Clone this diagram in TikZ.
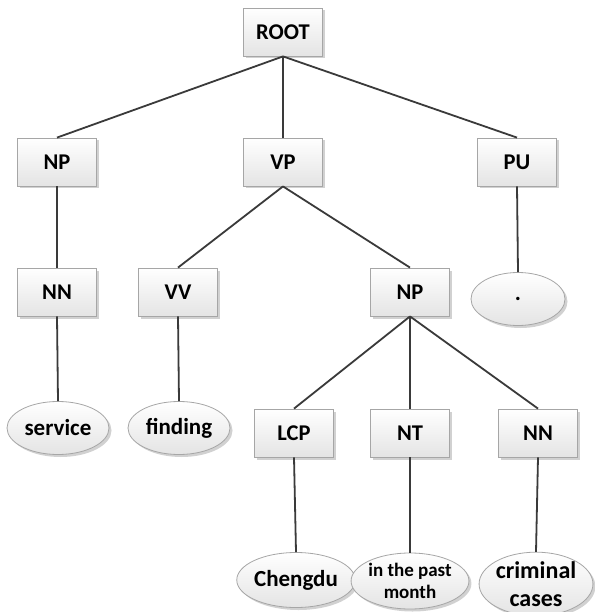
\documentclass[tikz,border=0pt]{standalone}
\usepackage{fontspec}
\setmainfont{Carlito}
\usetikzlibrary{shapes.geometric,shadows}
\definecolor{edgeclr}{HTML}{3A3A3A}
\definecolor{rimclr}{HTML}{A6A6A6}
\definecolor{fillbot}{HTML}{E4E4E4}
\tikzset{
  tag/.style={draw=rimclr, line width=0.8pt, top color=white, bottom color=fillbot,
    minimum width=79pt, minimum height=48pt, inner sep=0pt,
    font=\fontsize{22.5}{24}\selectfont\bfseries,
    drop shadow={shadow xshift=2.5pt, shadow yshift=-2.5pt, fill=black, opacity=0.18}},
  leaf/.style={ellipse, draw=rimclr, line width=0.8pt, top color=white, bottom color=fillbot,
    inner sep=0pt, align=center,
    font=\fontsize{23}{24}\selectfont\bfseries,
    drop shadow={shadow xshift=2.5pt, shadow yshift=-2.5pt, fill=black, opacity=0.18}},
  link/.style={draw=edgeclr, line width=1.8pt}
}
\begin{document}
\begin{tikzpicture}[x=1pt,y=-1pt]
  \useasboundingbox (0,0) rectangle (594,612);
  \fill[white] (0,0) rectangle (594,612);

  % phrase and tag boxes
  \node[tag] (root) at (283,32)  {ROOT};
  \node[tag] (np1)  at (57,162)  {NP};
  \node[tag] (vp)   at (283,162) {VP};
  \node[tag] (pu)   at (517,162) {PU};
  \node[tag] (nn1)  at (57,292)  {NN};
  \node[tag] (vv)   at (178,292) {VV};
  \node[tag] (np2)  at (410,292) {NP};
  \node[tag] (lcp)  at (294,433) {LCP};
  \node[tag] (nt)   at (410,433) {NT};
  \node[tag] (nn2)  at (538,433) {NN};

  % word leaves
  \node[leaf, minimum width=102pt, minimum height=53pt] (w1) at (58,428)  {service};
  \node[leaf, minimum width=102pt, minimum height=53pt] (w2) at (179,428) {finding};
  \node[leaf, minimum width=94pt,  minimum height=53pt] (w3) at (518,299) {.};
  \node[leaf, minimum width=113pt, minimum height=55pt] (w4) at (296,580) {Chengdu};
  \node[leaf, minimum width=99pt,  minimum height=56pt,
        font=\fontsize{19}{22}\selectfont\bfseries] (w5) at (410,581) {in the past\\month};
  \node[leaf, minimum width=98pt,  minimum height=56pt,
        font=\fontsize{24}{28}\selectfont\bfseries] (w6) at (536,584) {criminal\\cases};

  % tree edges
  \draw[link] (root.south) -- (np1.north);
  \draw[link] (root.south) -- (vp.north);
  \draw[link] (root.south) -- (pu.north);
  \draw[link] (np1.south) -- (nn1.north);
  \draw[link] (vp.south) -- (vv.north);
  \draw[link] (vp.south) -- (np2.north);
  \draw[link] (pu.south) -- (w3.north);
  \draw[link] (nn1.south) -- (w1.north);
  \draw[link] (vv.south) -- (w2.north);
  \draw[link] (np2.south) -- (lcp.north);
  \draw[link] (np2.south) -- (nt.north);
  \draw[link] (np2.south) -- (nn2.north);
  \draw[link] (lcp.south) -- (w4.north);
  \draw[link] (nt.south) -- (w5.north);
  \draw[link] (nn2.south) -- (w6.north);
\end{tikzpicture}
\end{document}
